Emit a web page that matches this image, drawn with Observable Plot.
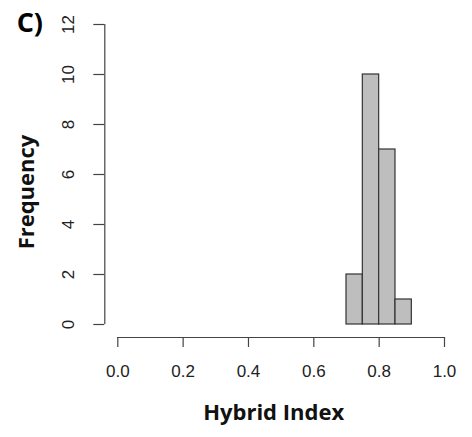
<!DOCTYPE html>
<html>
<head>
<meta charset="utf-8">
<script src="https://cdn.jsdelivr.net/npm/d3@7"></script>
<script src="https://cdn.jsdelivr.net/npm/@observablehq/plot@0.6"></script>
<style>
  html, body { margin: 0; padding: 0; background: #fff; }
</style>
</head>
<body>
<div id="chart"></div>
<script>
const binStarts = [0.70, 0.75, 0.80, 0.85];
const binEnds = [0.75, 0.80, 0.85, 0.90];
const counts = [2, 10, 7, 1];
const xTicks = [0.0, 0.2, 0.4, 0.6, 0.8, 1.0];
const xTickLabels = ["0.0", "0.2", "0.4", "0.6", "0.8", "1.0"];
const yTicks = [0, 2, 4, 6, 8, 10, 12];
const panelLabel = "C)";
const xTitle = "Hybrid Index";
const yTitle = "Frequency";

const bins = binStarts.map((s, i) => ({x1: s, x2: binEnds[i], y: counts[i]}));
const axisColor = "#444";
const tickFont = "'Liberation Sans', Arial, sans-serif";
const titleFont = "'Open Sans', Lato, sans-serif";

const W = 472, H = 437;
const mLeft = 104.3, mRight = 28, mTop = 24, mBottom = 100;
const frameH = H - mTop - mBottom;

const chart = Plot.plot({
  width: W,
  height: H,
  marginLeft: mLeft,
  marginRight: mRight,
  marginTop: mTop,
  marginBottom: mBottom,
  style: {fontFamily: tickFont, background: "#fff", overflow: "visible"},
  x: {domain: [0, 1], insetLeft: 13},
  y: {domain: [0, 12], insetBottom: 13},
  marks: [
    Plot.rectY(bins, {x1: "x1", x2: "x2", y: "y", fill: "#bebebe", stroke: "#333", strokeWidth: 1.2}),
    // x axis line (offset below the plot like R)
    Plot.ruleY([0], {x1: xTicks[0], x2: xTicks[xTicks.length - 1], dy: 13, stroke: axisColor, strokeWidth: 1.2}),
    // x tick marks hanging below the axis line
    Plot.ruleX(xTicks, {x: d => d, insetTop: frameH, insetBottom: -10, stroke: axisColor, strokeWidth: 1.2}),
    Plot.axisX(xTicks, {
      anchor: "bottom", tickSize: 0, tickPadding: 27,
      tickFormat: (d, i) => xTickLabels[i], fontSize: 17, fill: "#222", label: null
    }),
    // y axis line
    Plot.ruleX([0], {y1: yTicks[0], y2: yTicks[yTicks.length - 1], dx: -13, stroke: axisColor, strokeWidth: 1.2}),
    Plot.axisY(yTicks, {
      anchor: "left", tickSize: 11, tickPadding: 20,
      tickRotate: -90, textAnchor: "middle", fontSize: 17, fill: "#222",
      stroke: axisColor, strokeWidth: 1.2, label: null
    }),
    Plot.text([xTitle], {text: d => d, frameAnchor: "bottom", dx: -1, dy: 75, fontSize: 22, fontWeight: "bold", fontFamily: titleFont, fill: "#111", lineAnchor: "middle"}),
    Plot.text([yTitle], {text: d => d, frameAnchor: "left", dx: -78, dy: 11, rotate: -90, textAnchor: "middle", fontSize: 22, fontWeight: "bold", fontFamily: titleFont, fill: "#111", lineAnchor: "middle"}),
    Plot.text([panelLabel], {text: d => d, frameAnchor: "top-left", dx: -75, dy: -1, textAnchor: "middle", fontSize: 27, fontWeight: "bold", fontFamily: titleFont, fill: "#000", lineAnchor: "middle"})
  ]
});
document.getElementById("chart").appendChild(chart);
</script>
</body>
</html>
